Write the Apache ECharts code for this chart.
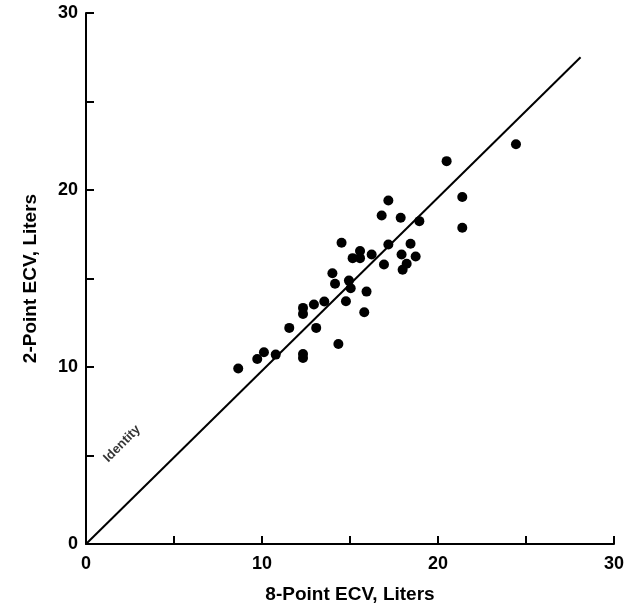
<!DOCTYPE html>
<html>
<head>
<meta charset="utf-8">
<script src="https://cdn.jsdelivr.net/npm/echarts@6/dist/echarts.min.js"></script>
<style>
  html, body { margin: 0; padding: 0; background: #fff; }
  #chart { width: 639px; height: 612px; }
</style>
</head>
<body>
<div id="chart"></div>
<script>
// 8-point ECV (x) vs 2-point ECV (y), liters
const eightPoint = [8.65, 9.73, 10.11, 10.78, 12.33, 12.33, 11.55, 13.08, 14.34, 12.33,
  12.33, 12.95, 13.54, 14.77, 15.81, 15.94, 14.15, 14.0, 14.94, 15.04,
  14.52, 15.15, 15.57, 15.57, 16.23, 16.93, 17.18, 17.18, 16.80, 17.88,
  18.94, 18.44, 17.93, 18.73, 18.22, 17.99, 21.38, 21.38, 20.49, 24.43];
const twoPoint = [9.92, 10.45, 10.83, 10.70, 10.73, 10.51, 12.21, 12.21, 11.30, 13.34,
  13.0, 13.53, 13.70, 13.71, 13.09, 14.26, 14.70, 15.30, 14.88, 14.45,
  17.02, 16.15, 16.55, 16.15, 16.36, 15.79, 16.92, 19.41, 18.56, 18.43,
  18.24, 16.96, 16.36, 16.24, 15.83, 15.49, 19.60, 17.87, 21.63, 22.58];
// identity line as drawn in the figure
const identityLine = [[0, 0], [28.1, 27.5]];
const identityLabelAt = [2.05, 5.66];
const tickLabels = ['0', '10', '20', '30'];

const points = eightPoint.map((x, i) => [x, twoPoint[i]]);
const font = 'Liberation Sans';

const chart = echarts.init(document.getElementById('chart'));

const axisCommon = {
  type: 'value',
  min: 0,
  max: 30,
  interval: 5,
  nameLocation: 'middle',
  nameTextStyle: { fontFamily: font, fontWeight: 'bold', fontSize: 19, color: '#000' },
  axisLine: { show: true, onZero: false, lineStyle: { color: '#000', width: 2 } },
  axisTick: { show: true, inside: true, length: 8, lineStyle: { color: '#000', width: 2 } },
  splitLine: { show: false },
  axisLabel: {
    fontFamily: font, fontWeight: 'bold', fontSize: 18, color: '#000',
    formatter: v => (v % 10 === 0 ? tickLabels[v / 10] : '')
  }
};

chart.setOption({
  animation: false,
  backgroundColor: '#fff',
  grid: { left: 86, top: 13, right: 25, bottom: 68 },
  xAxis: Object.assign({}, axisCommon, {
    name: '8-Point ECV, Liters',
    nameGap: 41,
    axisLabel: Object.assign({}, axisCommon.axisLabel, { margin: 11 })
  }),
  yAxis: Object.assign({}, axisCommon, {
    name: '2-Point ECV, Liters',
    nameGap: 46,
    axisLabel: Object.assign({}, axisCommon.axisLabel, { margin: 8 })
  }),
  series: [
    {
      type: 'line',
      data: identityLine,
      symbol: 'none',
      lineStyle: { color: '#000', width: 2 },
      silent: true
    },
    {
      type: 'scatter',
      data: points,
      symbolSize: 10,
      itemStyle: { color: '#000', opacity: 1 }
    },
    {
      type: 'scatter',
      data: [identityLabelAt],
      symbolSize: 0,
      label: {
        show: true,
        position: 'inside',
        formatter: 'Identity',
        rotate: 45,
        fontFamily: font,
        fontWeight: 'bold',
        fontSize: 13,
        color: '#000'
      }
    }
  ]
});
</script>
</body>
</html>
